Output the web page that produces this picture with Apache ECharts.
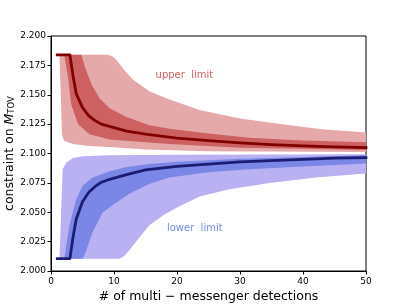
<!DOCTYPE html>
<html><head><meta charset="utf-8">
<script src="https://cdn.jsdelivr.net/npm/echarts@6/dist/echarts.min.js"></script>
<style>html,body{margin:0;padding:0;background:#fff}#c{width:407px;height:305px}</style>
</head><body><div id="c"></div>
<script>
// ---- data (x = # detections, y = constraint on M_TOV) ----
const xTicks = [0, 10, 20, 30, 40, 50];
const yTicks = [2.000, 2.025, 2.050, 2.075, 2.100, 2.125, 2.150, 2.175, 2.200];

// upper limit: 95% band (light)
const upperOuterTop = [[1.35,2.184],[9.0,2.184],[9.8,2.1825],[10.5,2.179],[11.5,2.172],[13,2.163],[15.6,2.153],[18.8,2.146],[23.6,2.137],[30,2.1297],[36.7,2.125],[43,2.1206],[50,2.1178]];
const upperOuterBot = [[1.35,2.184],[1.75,2.116],[2.1,2.1106],[3.5,2.108],[6,2.1064],[9.3,2.1055],[15,2.1035],[25,2.102],[50,2.1013]];
// upper limit: 68% band (dark)
const upperInnerTop = [[2.1,2.184],[4.8,2.184],[5.5,2.172],[6.5,2.158],[7.7,2.147],[9.3,2.1385],[12,2.131],[15.6,2.124],[18.8,2.121],[25,2.117],[31.5,2.1135],[40,2.111],[50,2.1095]];
const upperInnerBot = [[2.1,2.184],[2.7,2.1646],[3.2,2.142],[4.3,2.125],[6.1,2.1164],[9.3,2.112],[15,2.1095],[18.8,2.108],[30,2.105],[40,2.104],[50,2.103]];
// upper limit: median
const upperMedian = [[1,2.184],[2,2.184],[3,2.184],[3.5,2.166],[4,2.151],[5,2.139],[6,2.132],[7,2.128],[8,2.125],[9,2.1235],[10,2.122],[11,2.1205],[12,2.119],[15,2.1165],[20,2.113],[25,2.111],[30,2.109],[35,2.1075],[40,2.1065],[45,2.1057],[50,2.105]];

// lower limit: 95% band (light)
const lowerOuterTop = [[1.35,2.0105],[1.85,2.0866],[2.4,2.0922],[3.5,2.0962],[5,2.0977],[9.3,2.0986],[20,2.099],[50,2.0993]];
const lowerOuterBot = [[1.35,2.0105],[10.9,2.0105],[11.7,2.013],[12.5,2.018],[13.5,2.025],[15.6,2.039],[18,2.048],[20,2.054],[23.6,2.0635],[28.3,2.0695],[34.7,2.075],[42,2.0795],[50,2.083]];
// lower limit: 68% band (dark)
const lowerInnerTop = [[2.1,2.0105],[2.9,2.038],[4,2.061],[5,2.0723],[6.6,2.0795],[9.3,2.085],[12,2.0885],[15.6,2.091],[20,2.093],[30,2.0955],[40,2.097],[50,2.0985]];
const lowerInnerBot = [[2.1,2.0105],[5,2.0105],[5.5,2.016],[6.6,2.033],[8.2,2.0497],[10.3,2.058],[12.5,2.066],[15.6,2.074],[18.8,2.0795],[25,2.084],[31.5,2.0866],[40,2.089],[50,2.0915]];
// lower limit: median
const lowerMedian = [[1,2.0105],[2,2.0105],[3,2.0105],[3.5,2.029],[4,2.044],[5,2.059],[6,2.067],[7,2.072],[8,2.0755],[9,2.0775],[10,2.079],[11,2.0805],[12,2.082],[15,2.086],[20,2.089],[25,2.091],[30,2.0928],[35,2.094],[40,2.095],[45,2.096],[50,2.0965]];

// annotations
const upperLabel = {text: 'upper  limit', pos: [16.6, 2.1666]};
const lowerLabel = {text: 'lower  limit', pos: [18.4, 2.0361]};

// ---- chart ----
const FONT = 'DejaVu Sans';
function band(top, bot, color, z) {
  const poly = top.concat(bot.slice().reverse());
  return {
    type: 'custom', z: z, silent: true, clip: true,
    data: [0],
    renderItem: function (params, api) {
      return {
        type: 'polygon',
        shape: { points: poly.map(p => api.coord(p)) },
        style: { fill: color, stroke: null }
      };
    }
  };
}
function median(data, color) {
  return {
    type: 'line', data: data, symbol: 'none', z: 5, silent: true,
    lineStyle: { color: color, width: 2.8, cap: 'square', join: 'round' }
  };
}
function label(l, color) {
  return {
    type: 'scatter', data: [l.pos], symbolSize: 0, z: 6, silent: true,
    label: { show: true, position: 'right', distance: 0, formatter: l.text,
      color: color, fontFamily: FONT, fontSize: 10 }
  };
}

const chart = echarts.init(document.getElementById('c'), null, {renderer: 'canvas'});
chart.setOption({
  animation: false,
  backgroundColor: '#fff',
  grid: { left: 51, right: 41, top: 36, bottom: 34, containLabel: false, outerBoundsMode: 'none',
    show: true, borderColor: '#000', borderWidth: 1, backgroundColor: 'transparent' },
  xAxis: {
    type: 'value', min: xTicks[0], max: xTicks[xTicks.length-1], interval: 10,
    name: '# of multi \u2212 messenger detections', nameLocation: 'middle', nameGap: 19, nameMoveOverlap: false,
    nameTextStyle: { fontFamily: FONT, fontSize: 12.5, color: '#000' },
    axisLine: { show: true, lineStyle: { color: '#000', width: 1 } },
    axisTick: { show: true, inside: false, length: 3.5, lineStyle: { color: '#000' } },
    axisLabel: { fontFamily: FONT, fontSize: 9, color: '#000', margin: 6 },
    splitLine: { show: false }
  },
  yAxis: {
    type: 'value', min: yTicks[0], max: yTicks[yTicks.length-1], interval: 0.025,
    name: '{a|constraint on }{i|M}{s|TOV}', nameLocation: 'middle', nameGap: 35, nameRotate: 90, nameMoveOverlap: false,
    nameTextStyle: { fontFamily: FONT, fontSize: 12.5, color: '#000',
      rich: {
        a: { fontFamily: FONT, fontSize: 12.5, color: '#000', lineHeight: 16, verticalAlign: 'bottom' },
        i: { fontFamily: FONT, fontSize: 12.5, fontStyle: 'italic', color: '#000', lineHeight: 16, verticalAlign: 'bottom' },
        s: { fontFamily: FONT, fontSize: 8.5, color: '#000', lineHeight: 9, verticalAlign: 'bottom', padding: [0,0,0,0] }
      } },
    axisLine: { show: true, lineStyle: { color: '#000', width: 1 } },
    axisTick: { show: true, inside: false, length: 3.5, lineStyle: { color: '#000' } },
    axisLabel: { fontFamily: FONT, fontSize: 9, color: '#000', margin: 5, formatter: v => v.toFixed(3) },
    splitLine: { show: false }
  },
  series: [
    band(upperOuterTop, upperOuterBot, '#e5a9a9', 1),
    band(upperInnerTop, upperInnerBot, '#cd6161', 2),
    band(lowerOuterTop, lowerOuterBot, '#b9b1f1', 1),
    band(lowerInnerTop, lowerInnerBot, '#7b87e7', 2),
    median(upperMedian, '#800000'),
    median(lowerMedian, '#1c1c72'),
    label(upperLabel, '#cc3333'),
    label(lowerLabel, '#4f6fe0')
  ]
});
</script></body></html>
